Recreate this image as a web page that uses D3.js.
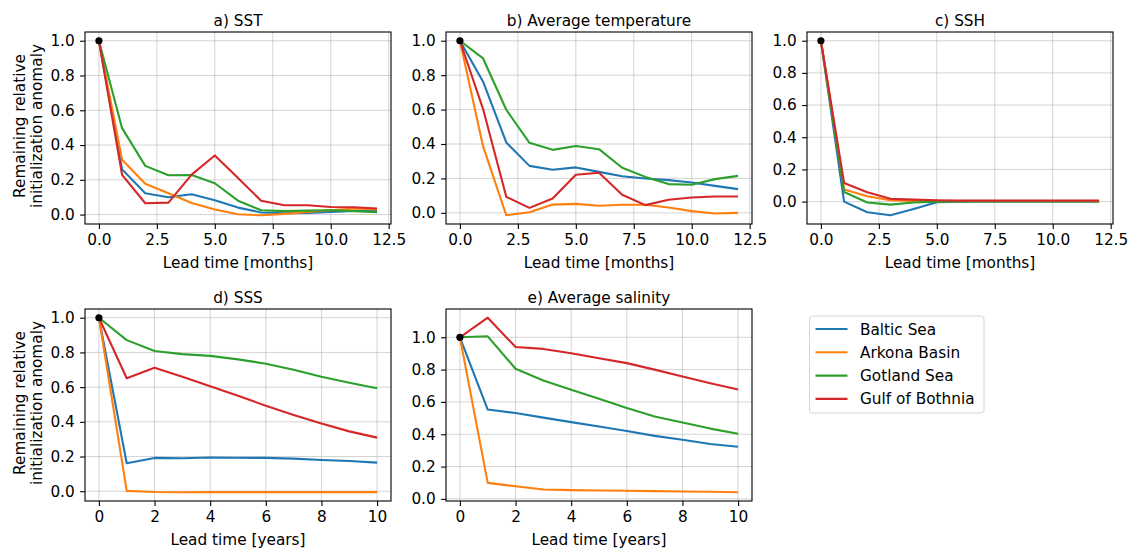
<!DOCTYPE html>
<html>
<head>
<meta charset="utf-8">
<script src="https://cdn.jsdelivr.net/npm/d3@7"></script>
<style>
body { margin: 0; background: #fff; }
text { font-family: "DejaVu Sans", sans-serif; fill: #000; }
.grid line { stroke: #b0b0b0; stroke-opacity: 0.55; stroke-width: 1; }
</style>
</head>
<body>
<div id="chart"></div>
<script>
var svgWidth = 1131;
var svgHeight = 550;

// regions, in draw order
var regions = ["Baltic Sea", "Arkona Basin", "Gotland Sea", "Gulf of Bothnia"];
var colors = ["#1f77b4", "#ff7f0e", "#2ca02c", "#d62728"];

var months = [0, 1, 2, 3, 4, 5, 6, 7, 8, 9, 10, 11, 12];
var years = [0, 1, 2, 3, 4, 5, 6, 7, 8, 9, 10];

var monthTicks = [0, 2.5, 5, 7.5, 10, 12.5];
var yearTicks = [0, 2, 4, 6, 8, 10];
var valueTicks = [0, 0.2, 0.4, 0.6, 0.8, 1.0];

// a) SST
var sstBaltic  = [1, 0.26, 0.123, 0.10, 0.117, 0.083, 0.04, 0.012, 0.008, 0.010, 0.015, 0.021, 0.021];
var sstArkona  = [1, 0.315, 0.177, 0.123, 0.067, 0.029, 0.002, -0.004, 0.004, 0.015, 0.025, 0.035, 0.029];
var sstGotland = [1, 0.497, 0.28, 0.226, 0.228, 0.18, 0.08, 0.025, 0.02, 0.023, 0.025, 0.02, 0.013];
var sstBothnia = [1, 0.228, 0.065, 0.069, 0.23, 0.34, 0.21, 0.08, 0.054, 0.054, 0.044, 0.042, 0.035];

// b) Average temperature
var tempBaltic  = [1, 0.762, 0.409, 0.273, 0.25, 0.264, 0.238, 0.213, 0.20, 0.19, 0.176, 0.157, 0.138];
var tempArkona  = [1, 0.386, -0.014, 0.004, 0.048, 0.052, 0.041, 0.047, 0.047, 0.031, 0.01, -0.004, 0.0];
var tempGotland = [1, 0.897, 0.599, 0.407, 0.366, 0.388, 0.37, 0.262, 0.209, 0.167, 0.163, 0.196, 0.215];
var tempBothnia = [1, 0.603, 0.093, 0.029, 0.083, 0.221, 0.233, 0.105, 0.045, 0.076, 0.089, 0.095, 0.095];

// c) SSH
var sshBaltic  = [1, 0.0, -0.066, -0.085, -0.046, -0.004, 0.0, 0.001, 0.001, 0.001, 0.001, 0.001, 0.001];
var sshArkona  = [1, 0.075, 0.033, 0.008, 0.004, 0.002, 0.002, 0.002, 0.002, 0.002, 0.002, 0.002, 0.002];
var sshGotland = [1, 0.06, -0.006, -0.019, -0.006, 0.0, 0.001, 0.001, 0.001, 0.001, 0.001, 0.001, 0.001];
var sshBothnia = [1, 0.116, 0.058, 0.017, 0.012, 0.008, 0.006, 0.006, 0.006, 0.006, 0.006, 0.006, 0.006];

// d) SSS
var sssBaltic  = [1, 0.161, 0.192, 0.19, 0.194, 0.193, 0.192, 0.188, 0.18, 0.174, 0.165];
var sssArkona  = [1, 0.002, -0.004, -0.006, -0.005, -0.005, -0.005, -0.005, -0.005, -0.005, -0.005];
var sssGotland = [1, 0.871, 0.808, 0.79, 0.78, 0.76, 0.735, 0.70, 0.66, 0.625, 0.593];
var sssBothnia = [1, 0.651, 0.712, 0.66, 0.605, 0.55, 0.493, 0.44, 0.39, 0.345, 0.309];

// e) Average salinity
var salBaltic  = [1, 0.553, 0.531, 0.503, 0.475, 0.448, 0.42, 0.39, 0.366, 0.34, 0.323];
var salArkona  = [1, 0.099, 0.078, 0.058, 0.054, 0.052, 0.05, 0.048, 0.046, 0.044, 0.041];
var salGotland = [1, 1.006, 0.805, 0.733, 0.675, 0.62, 0.562, 0.51, 0.473, 0.435, 0.403];
var salBothnia = [1, 1.121, 0.940, 0.928, 0.901, 0.87, 0.84, 0.80, 0.757, 0.715, 0.677];

var panels = [
    {title: "a) SST", x: months, xTicks: monthTicks, xFmt: d3.format(".1f"), xLabel: "Lead time [months]",
     series: [sstBaltic, sstArkona, sstGotland, sstBothnia], col: 0, row: 0, yLabel: true},
    {title: "b) Average temperature", x: months, xTicks: monthTicks, xFmt: d3.format(".1f"), xLabel: "Lead time [months]",
     series: [tempBaltic, tempArkona, tempGotland, tempBothnia], col: 1, row: 0},
    {title: "c) SSH", x: months, xTicks: monthTicks, xFmt: d3.format(".1f"), xLabel: "Lead time [months]",
     series: [sshBaltic, sshArkona, sshGotland, sshBothnia], col: 2, row: 0},
    {title: "d) SSS", x: years, xTicks: yearTicks, xFmt: d3.format("d"), xLabel: "Lead time [years]",
     series: [sssBaltic, sssArkona, sssGotland, sssBothnia], col: 0, row: 1, yLabel: true},
    {title: "e) Average salinity", x: years, xTicks: yearTicks, xFmt: d3.format("d"), xLabel: "Lead time [years]",
     series: [salBaltic, salArkona, salGotland, salBothnia], col: 1, row: 1}
];

var colLeft = [85, 446, 807];
var rowTop = [32, 309];
var panelW = 306;
var panelH = 192;
var fontSize = 15.3;

var svg = d3.select("#chart")
    .append("svg")
    .attr("width", svgWidth)
    .attr("height", svgHeight);

// pad a domain by 5% like matplotlib
function padded(lo, hi){
    var m = (hi - lo) * 0.05;
    return [lo - m, hi + m];
}

panels.forEach(function(p){
    var g = svg.append("g")
        .attr("transform", `translate(${colLeft[p.col]},${rowTop[p.row]})`);

    var allY = d3.merge(p.series);
    var xScale = d3.scaleLinear()
        .domain(padded(d3.min(p.x), d3.max(p.x)))
        .range([0, panelW]);
    var yScale = d3.scaleLinear()
        .domain(padded(d3.min(allY), d3.max(allY)))
        .range([panelH, 0]);

    var yTicks = valueTicks.filter(d => d >= yScale.domain()[0] && d <= yScale.domain()[1]);
    var xTicks = p.xTicks.filter(d => d >= xScale.domain()[0] && d <= xScale.domain()[1]);

    // grid
    var grid = g.append("g").classed("grid", true);
    grid.selectAll(".gx").data(xTicks).enter().append("line")
        .attr("x1", d => xScale(d)).attr("x2", d => xScale(d))
        .attr("y1", 0).attr("y2", panelH);
    grid.selectAll(".gy").data(yTicks).enter().append("line")
        .attr("x1", 0).attr("x2", panelW)
        .attr("y1", d => yScale(d)).attr("y2", d => yScale(d));

    // lines
    var line = d3.line()
        .x((d, i) => xScale(p.x[i]))
        .y(d => yScale(d));
    g.selectAll(".series")
        .data(p.series)
        .enter()
        .append("path")
        .attr("d", d => line(d))
        .attr("fill", "none")
        .attr("stroke", (d, i) => colors[i])
        .attr("stroke-width", 2.1)
        .attr("stroke-linejoin", "round");

    // start point
    g.append("circle")
        .attr("cx", xScale(0))
        .attr("cy", yScale(1))
        .attr("r", 3.6)
        .attr("fill", "#000");

    // axes
    var bottomAxis = d3.axisBottom(xScale).tickValues(xTicks).tickFormat(p.xFmt).tickSize(4.9).tickPadding(4.9);
    var leftAxis = d3.axisLeft(yScale).tickValues(yTicks).tickFormat(d3.format(".1f")).tickSize(4.9).tickPadding(5.4);

    var xAxis = g.append("g")
        .attr("transform", `translate(0,${panelH})`)
        .call(bottomAxis);
    var yAxis = g.append("g").call(leftAxis);
    [xAxis, yAxis].forEach(function(a){
        a.select(".domain").remove();
        a.selectAll("line").attr("stroke", "#000").attr("stroke-width", 1.1);
        a.selectAll("text").style("font-size", fontSize + "px").style("font-family", "DejaVu Sans");
    });

    // frame
    g.append("rect")
        .attr("width", panelW)
        .attr("height", panelH)
        .attr("fill", "none")
        .attr("stroke", "#000")
        .attr("stroke-width", 1.1);

    // title
    g.append("text")
        .attr("x", panelW / 2)
        .attr("y", -6.5)
        .attr("text-anchor", "middle")
        .style("font-size", fontSize + "px")
        .text(p.title);

    // x label
    g.append("text")
        .attr("x", panelW / 2)
        .attr("y", panelH + 43.5)
        .attr("text-anchor", "middle")
        .style("font-size", fontSize + "px")
        .text(p.xLabel);

    // y label
    if (p.yLabel){
        var yl = g.append("text")
            .attr("transform", `translate(-60.5,${panelH / 2 - 2}) rotate(-90)`)
            .attr("text-anchor", "middle")
            .style("font-size", fontSize + "px");
        yl.append("tspan").attr("x", 0).attr("dy", 0).text("Remaining relative");
        yl.append("tspan").attr("x", 0).attr("dy", 17).text("initialization anomaly");
    }
});

// legend
var legend = svg.append("g").attr("transform", "translate(809.5,316)");
legend.append("rect")
    .attr("width", 174.5)
    .attr("height", 97)
    .attr("rx", 3)
    .attr("fill", "#fff")
    .attr("fill-opacity", 0.8)
    .attr("stroke", "#d6d6d6")
    .attr("stroke-width", 1);
var items = legend.selectAll(".item")
    .data(regions)
    .enter()
    .append("g")
    .attr("transform", (d, i) => `translate(0,${13 + i * 23.3})`);
items.append("line")
    .attr("x1", 6).attr("x2", 38)
    .attr("stroke", (d, i) => colors[i])
    .attr("stroke-width", 2.1);
items.append("text")
    .attr("x", 50.5)
    .attr("dy", "0.36em")
    .style("font-size", fontSize + "px")
    .text(d => d);
</script>
</body>
</html>
